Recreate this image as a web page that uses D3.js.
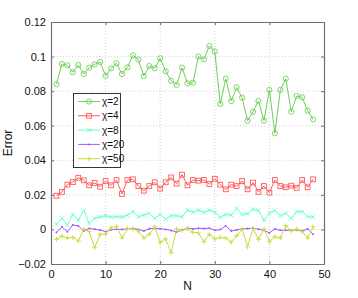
<!DOCTYPE html>
<html><head><meta charset="utf-8">
<script src="https://cdn.jsdelivr.net/npm/d3@7"></script>
<style>body{margin:0;background:#fff}svg{display:block;font-family:"Liberation Sans",Arial,sans-serif}</style>
</head><body><svg id="c" width="358" height="298"></svg>
<script>
const N = d3.range(1, 49);
const chi2 = [0.084,0.0957,0.095,0.0909,0.0951,0.0899,0.0936,0.0955,0.0969,0.0889,0.0932,0.0961,0.0899,0.0938,0.1007,0.0982,0.0888,0.0945,0.0932,0.099,0.0915,0.086,0.0836,0.0936,0.0845,0.0849,0.1,0.0984,0.1061,0.103,0.0726,0.0872,0.0743,0.0822,0.0762,0.0629,0.0681,0.0743,0.0629,0.0807,0.0556,0.0807,0.0872,0.0681,0.0772,0.0764,0.0687,0.0637];
const chi4 = [0.0195,0.0217,0.0259,0.0274,0.0299,0.0284,0.0255,0.0269,0.0247,0.028,0.0255,0.0286,0.0205,0.0286,0.029,0.0251,0.0224,0.0251,0.0273,0.0236,0.0273,0.0301,0.0265,0.0317,0.0255,0.0286,0.0282,0.0286,0.0263,0.0293,0.0259,0.0232,0.0259,0.0251,0.028,0.0232,0.0271,0.0217,0.0251,0.0213,0.0286,0.0251,0.0244,0.0253,0.0241,0.0286,0.0244,0.029];
const chi8 = [0.003,0.0064,0.0026,0.0087,0.0054,0.011,0.0035,0.0064,0.0072,0.0079,0.0072,0.0074,0.0072,0.0083,0.0103,0.0074,0.0083,0.0093,0.0064,0.0087,0.0058,0.0079,0.0079,0.0074,0.0113,0.0099,0.0112,0.0099,0.0112,0.0099,0.007,0.0087,0.0083,0.0122,0.0087,0.0091,0.0116,0.011,0.0054,0.0093,0.011,0.0079,0.0093,0.0064,0.0103,0.0103,0.0074,0.0072];
const chi20 = [-0.0018,0.0015,-0.0013,0.0026,0.002,-0.0009,0.0006,0.0001,-0.0004,-0.0013,-0.0002,0.0001,0,0.0004,0.0006,0,-0.0009,0.0004,0.0006,0.0004,0,-0.0006,-0.0015,-0.0004,0.0008,0.0003,0.0007,0.0005,0.0007,-0.0005,-0.0001,0.002,-0.0009,-0.0003,0.0003,0.0005,0.0007,0.0001,-0.0005,-0.002,0.0003,-0.0005,-0.0005,-0.0005,-0.0003,-0.0009,0.0003,-0.0028];
const chi50 = [-0.0057,-0.0038,-0.005,-0.0046,-0.0067,0.0002,-0.0013,-0.0106,-0.0028,-0.0028,0.001,0.0018,-0.005,0.0006,0.0002,-0.0009,-0.005,-0.0028,0.0015,-0.0074,-0.0055,-0.0135,0.0002,-0.0005,0.0004,-0.0017,-0.002,-0.0071,-0.0028,-0.0055,-0.0046,-0.005,-0.0074,-0.0036,0.0002,-0.01,0.0006,-0.0057,0.0002,-0.0071,-0.0042,-0.005,0.0022,-0.0009,0.0002,-0.0013,-0.005,0.0015];
const seriesNames = ["χ=2","χ=4","χ=8","χ=20","χ=50"];
const xTicks = [0,10,20,30,40,50];
const yTicks = [-0.02,0,0.02,0.04,0.06,0.08,0.1,0.12];

const colors = ["#6fcf5a","#ff5a5a","#66ffcc","#aa55ff","#c8dc3c"];
const markers = ["circle","square","x","dot","plus"];
const allSeries = [chi2,chi4,chi8,chi20,chi50];

const svg = d3.select("#c");
const L=51,R=324,T=22,B=264;
const x = d3.scaleLinear().domain([0,50]).range([L,R]);
const y = d3.scaleLinear().domain([-0.02,0.12]).range([B,T]);

// grid
const g = svg.append("g");
g.selectAll(".gx").data(xTicks.slice(1,-1)).join("line")
 .attr("x1",d=>x(d)).attr("x2",d=>x(d)).attr("y1",T).attr("y2",B)
 .attr("stroke","#c8c8c8").attr("stroke-width",0.8).attr("stroke-dasharray","1,2");
g.selectAll(".gy").data(yTicks.slice(1,-1)).join("line")
 .attr("y1",d=>y(d)).attr("y2",d=>y(d)).attr("x1",L).attr("x2",R)
 .attr("stroke","#c8c8c8").attr("stroke-width",0.8).attr("stroke-dasharray","1,2");

// axes
const fmt = d => d===0 ? "0" : (d<0 ? "\u2212"+String(-d) : String(d));
const xa = svg.append("g").attr("transform",`translate(0,${B})`)
 .call(d3.axisBottom(x).tickValues(xTicks).tickSizeInner(-3).tickSizeOuter(0).tickPadding(6).tickFormat(d=>String(d)));
const xa2 = svg.append("g").attr("transform",`translate(0,${T})`)
 .call(d3.axisTop(x).tickValues(xTicks).tickSizeInner(-3).tickSizeOuter(0).tickFormat(""));
const ya = svg.append("g").attr("transform",`translate(${L},0)`)
 .call(d3.axisLeft(y).tickValues(yTicks).tickSizeInner(-3).tickSizeOuter(0).tickPadding(5).tickFormat(fmt));
const ya2 = svg.append("g").attr("transform",`translate(${R},0)`)
 .call(d3.axisRight(y).tickValues(yTicks).tickSizeInner(-3).tickSizeOuter(0).tickFormat(""));
[xa,xa2,ya,ya2].forEach(a=>{
  a.selectAll("path").attr("stroke","#707070").attr("stroke-width",1.2);
  a.selectAll("line").attr("stroke","#707070");
  a.selectAll("text").attr("fill","#111").style("font-size","11px").style("font-family","'Liberation Sans',Arial,sans-serif");
});

// series
function drawMarker(sel, type, color){
  sel.each(function(){
    const s = d3.select(this);
    if(type==="circle") s.append("circle").attr("r",2.6).attr("fill","none").attr("stroke",color).attr("stroke-width",0.9);
    else if(type==="square") s.append("rect").attr("x",-2.4).attr("y",-2.4).attr("width",4.8).attr("height",4.8).attr("fill","none").attr("stroke",color).attr("stroke-width",0.9);
    else if(type==="x") s.append("path").attr("d","M-2,-2L2,2M-2,2L2,-2").attr("stroke",color).attr("stroke-width",0.9);
    else if(type==="dot") s.append("circle").attr("r",1).attr("fill",color);
    else if(type==="plus") s.append("path").attr("d","M-2.5,0L2.5,0M0,-2.5L0,2.5").attr("stroke",color).attr("stroke-width",0.9);
  });
}
const line = d3.line().x((d,i)=>x(N[i])).y(d=>y(d));
allSeries.forEach((vals,k)=>{
  const sg = svg.append("g");
  sg.append("path").datum(vals).attr("d",line).attr("fill","none").attr("stroke",colors[k]).attr("stroke-width",1);
  const m = sg.selectAll("g").data(vals).join("g").attr("transform",(d,i)=>`translate(${x(N[i])},${y(d)})`);
  drawMarker(m, markers[k], colors[k]);
});

// legend
const lg = svg.append("g");
lg.append("rect").attr("x",73.5).attr("y",93.5).attr("width",47).attr("height",74).attr("fill","#fff").attr("stroke","#222").attr("stroke-width",0.9);
seriesNames.forEach((nm,k)=>{
  const yy = 101.5 + k*14.3;
  lg.append("line").attr("x1",78).attr("x2",100).attr("y1",yy).attr("y2",yy).attr("stroke",colors[k]).attr("stroke-width",1);
  const mg = lg.append("g").attr("transform",`translate(89,${yy})`);
  drawMarker(mg, markers[k], colors[k]);
  lg.append("text").attr("x",102).attr("y",yy).attr("dy","0.35em").text(nm)
    .style("font-size","10px").attr("fill","#111");
});

// labels
svg.append("text").attr("x",(L+R)/2).attr("y",290).attr("text-anchor","middle").text("N").style("font-size","12px").attr("fill","#111");
svg.append("text").attr("transform",`translate(12,${(T+B)/2}) rotate(-90)`).attr("text-anchor","middle").text("Error").style("font-size","12px").attr("fill","#111");
</script></body></html>
